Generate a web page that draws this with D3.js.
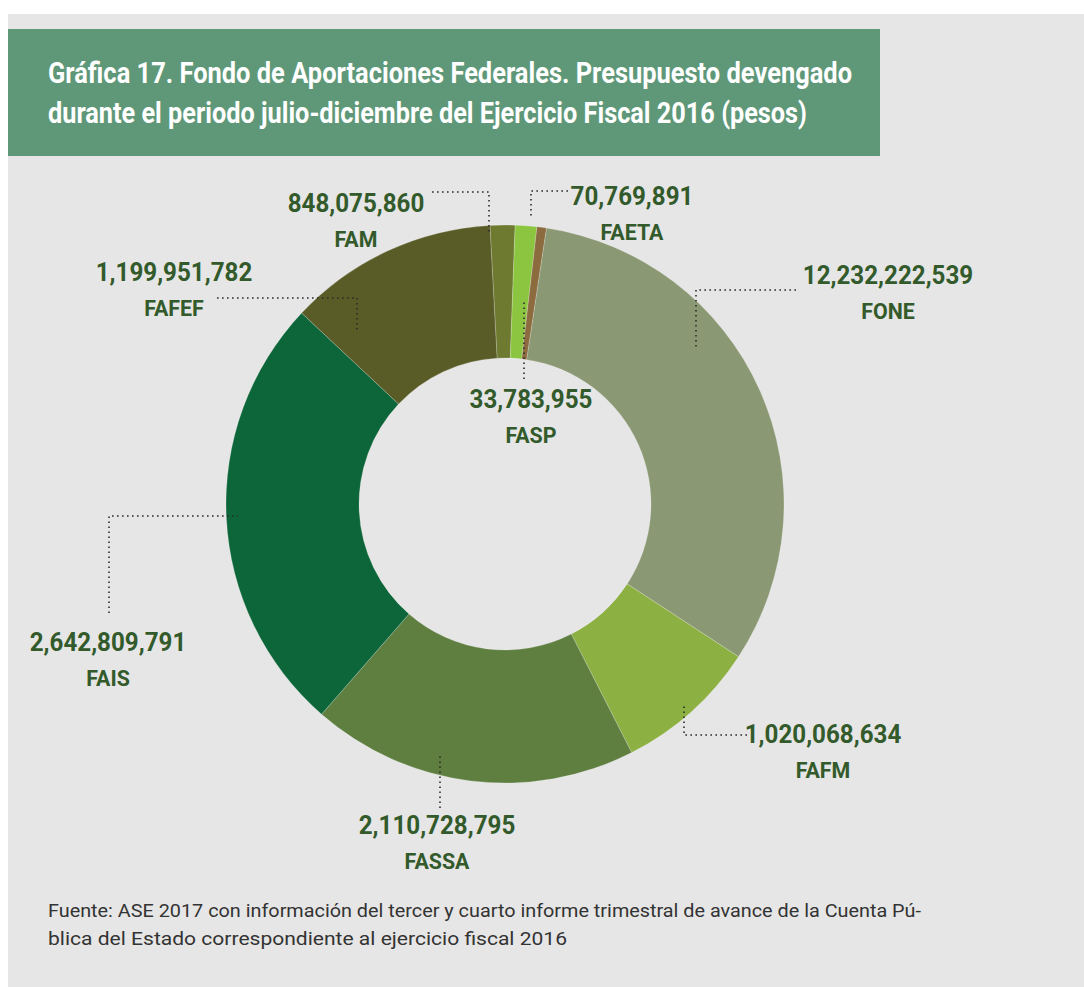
<!DOCTYPE html>
<html>
<head>
<meta charset="utf-8">
<script src="https://cdn.jsdelivr.net/npm/d3@7"></script>
<style>
  body { margin: 0; background: #fff; }
  svg { display: block; }
</style>
</head>
<body>
<div id="chart"></div>
<script>
// Datos de la gráfica
var fondos = ["FAM", "FAETA", "FASP", "FONE", "FAFM", "FASSA", "FAIS", "FAFEF"];
var montos = [848075860, 70769891, 33783955, 12232222539, 1020068634, 2110728795, 2642809791, 1199951782];
// Proporción del anillo tal como aparece dibujada (%)
var porcentajes = [1.44, 1.25, 0.55, 31.84, 8.28, 18.92, 25.58, 12.14];
var colores = ["#6e7a30", "#8cc640", "#8c6b3f", "#8a9873", "#8db043", "#5e7f40", "#0d6639", "#5a5c27"];

var titulo = [
    "Gráfica 17. Fondo de Aportaciones Federales. Presupuesto devengado",
    "durante el periodo julio-diciembre del Ejercicio Fiscal 2016 (pesos)"
];
var fuente = [
    "Fuente: ASE 2017 con información del tercer y cuarto informe trimestral de avance de la Cuenta Pú-",
    "blica del Estado correspondiente al ejercicio fiscal 2016"
];

// Posición de etiquetas y líneas guía
var etiquetas = {
    FAM:   {x: 356, y: 212, guia: [[432, 192], [489, 192], [489, 233]]},
    FAETA: {x: 632, y: 205, guia: [[568, 191], [531, 191], [531, 217]]},
    FASP:  {x: 531, y: 408, guia: [[524, 379], [524, 300]]},
    FONE:  {x: 888, y: 284, guia: [[796, 290], [696, 290], [696, 350]]},
    FAFM:  {x: 823, y: 743, guia: [[747, 735], [684, 735], [684, 703]]},
    FASSA: {x: 437, y: 834, guia: [[440, 808], [440, 753]]},
    FAIS:  {x: 108, y: 651, guia: [[109, 613], [109, 516], [238, 516]]},
    FAFEF: {x: 174, y: 281, guia: [[217, 298], [357, 298], [357, 330]]}
};

var W = 1084, H = 987;
var cx = 505, cy = 504, rOut = 279, rIn = 146;
var verde = "#335a2b";

var svg = d3.select("#chart").append("svg")
    .attr("width", W)
    .attr("height", H);

// Fondo
svg.append("rect").attr("width", W).attr("height", H).attr("fill", "#fff");
svg.append("rect").attr("x", 8).attr("y", 14).attr("width", W - 8).attr("height", H - 14).attr("fill", "#e6e6e6");

// Caja del título
svg.append("rect").attr("x", 8).attr("y", 29).attr("width", 872).attr("height", 127).attr("fill", "#5e9879");
var anchosTitulo = [804, 759];
svg.selectAll(".titulo")
    .data(titulo)
    .enter()
    .append("text")
    .attr("class", "titulo")
    .attr("x", 48)
    .attr("y", (d, i) => 83 + i * 40)
    .attr("textLength", (d, i) => anchosTitulo[i])
    .attr("lengthAdjust", "spacingAndGlyphs")
    .style("font-family", "Roboto, sans-serif")
    .style("font-weight", "700")
    .style("font-size", "30px")
    .style("fill", "#fff")
    .text(d => d);

// Anillo
var datos = fondos.map((f, i) => ({fondo: f, monto: montos[i], pct: porcentajes[i], color: colores[i]}));
var inicio = -3.1 * Math.PI / 180;
var pie = d3.pie()
    .sort(null)
    .value(d => d.pct)
    .startAngle(inicio)
    .endAngle(inicio + 2 * Math.PI);
var arc = d3.arc().innerRadius(rIn).outerRadius(rOut);

var g = svg.append("g").attr("transform", "translate(" + cx + "," + cy + ")");
g.selectAll("path")
    .data(pie(datos))
    .enter()
    .append("path")
    .attr("d", arc)
    .attr("fill", d => d.data.color)
    .attr("stroke", "rgba(255,255,255,0.35)")
    .attr("stroke-width", 0.6);

// Líneas guía punteadas
var linea = d3.line();
svg.selectAll(".guia")
    .data(fondos)
    .enter()
    .append("path")
    .attr("class", "guia")
    .attr("d", f => linea(etiquetas[f].guia))
    .attr("fill", "none")
    .attr("stroke", "#2b2b2b")
    .attr("stroke-width", 1.6)
    .attr("stroke-dasharray", "1.6,3.4");

// Etiquetas
var fmt = d3.format(",");
var lab = svg.selectAll(".lab")
    .data(datos)
    .enter()
    .append("g")
    .attr("class", "lab")
    .attr("transform", d => "translate(" + etiquetas[d.fondo].x + "," + etiquetas[d.fondo].y + ") scale(0.93,1)");

lab.append("text")
    .attr("text-anchor", "middle")
    .style("font-family", "Roboto, sans-serif")
    .style("font-weight", "700")
    .style("font-size", "26px")
    .style("fill", verde)
    .text(d => fmt(d.monto));

lab.append("text")
    .attr("y", 35)
    .attr("text-anchor", "middle")
    .style("font-family", "Roboto, sans-serif")
    .style("font-weight", "700")
    .style("font-size", "23px")
    .style("fill", verde)
    .text(d => d.fondo);

// Fuente
var anchosFuente = [873, 519];
svg.selectAll(".fuente")
    .data(fuente)
    .enter()
    .append("text")
    .attr("class", "fuente")
    .attr("x", 48)
    .attr("y", (d, i) => 917 + i * 28)
    .attr("textLength", (d, i) => anchosFuente[i])
    .attr("lengthAdjust", "spacingAndGlyphs")
    .style("font-family", "Roboto, sans-serif")
    .style("font-size", "18px")
    .style("fill", "#333")
    .text(d => d);
</script>
</body>
</html>
